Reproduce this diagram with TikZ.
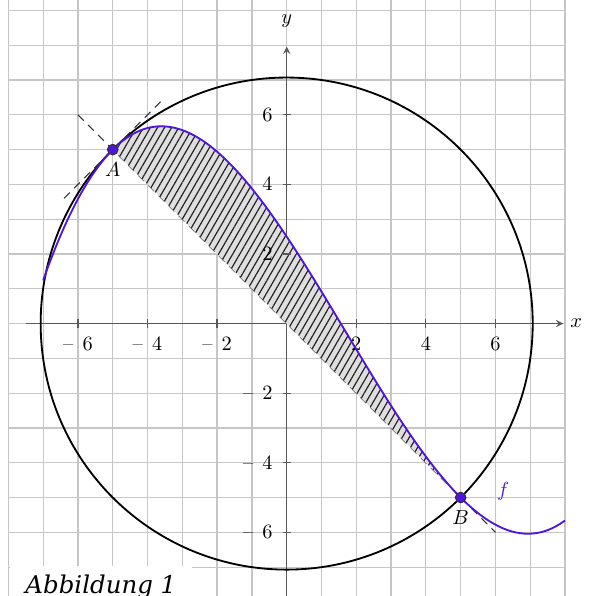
\documentclass[tikz,border=0pt]{standalone}
\usepackage{amsmath}
\usepackage{fontspec}
\newfontfamily\capfont{DejaVu Serif}
\usepackage{xcolor}
\usepackage{tikz}
\usetikzlibrary{positioning,patterns.meta}
\definecolor{fblue}{RGB}{80,20,220}

\begin{document}
\begin{tikzpicture}[x=0.6cm, y=0.6cm,
  declare function={f(\x)=((0.02*\x-0.1)*\x-1.5)*\x+2.5;},
  gridline/.style={gray!45, line width=0.6pt},
  axisline/.style={black!65, line width=0.6pt, -stealth},
  dashline/.style={black!80, line width=0.5pt, dash pattern=on 4pt off 3pt},
  hatchfill/.style={fill=gray!25, postaction={pattern={Lines[angle=60,distance=3pt,line width=0.6pt]}, pattern color=black!85}},
  punkt/.style={circle, fill=fblue, draw=black!80, line width=0.5pt, inner sep=0pt, minimum size=5.2pt}]
\useasboundingbox (-8.24,-7.83) rectangle (8.77,9.30);

% Grid
\foreach \i in {-8,...,8}
  \draw[gridline] (\i,-7.83) -- (\i,9.3);
\foreach \j in {-7,...,9}
  \draw[gridline] (-8,\j) -- (8,\j);

% Axes
\coordinate (xl) at (-7.5,0);
\coordinate (xr) at (7.95,0);
\coordinate (yb) at (0,-7.83);
\coordinate (yt) at (0,7.96);
\draw[axisline] (xl) -- (xr);
\draw[axisline] (yb) -- (yt);
\node[right] (xlab) at (xr) {$x$};
\node[above=6pt] (ylab) at (yt) {$y$};

% Circle
\draw[line width=0.9pt] (0,0) circle ({sqrt(50)});

% Dashed lines
\coordinate (T1) at (-6.4,3.6);
\coordinate (T2) at (-3.6,6.4);
\coordinate (D1) at (-6,6);
\coordinate (D2) at (6,-6);
\draw[dashline] (T1) -- (T2);
\draw[dashline] (D1) -- (D2);

% Area between f and AB
\fill[hatchfill] plot[domain=-5:5, samples=80, smooth] (\x,{f(\x)}) -- cycle;

% Ticks
\foreach \t in {-6,-4,-2,2,4,6} {
  \draw[black!65, line width=0.6pt] (\t,0) ++(0,-2pt) -- ++(0,4pt);
  \draw[black!65, line width=0.6pt] (0,\t) ++(-2pt,0) -- ++(4pt,0);
}
\foreach \t in {2,4,6} {
  \node[below=4.4pt, inner sep=2pt] (xp\t) at (\t,0) {$\t$};
  \node[below=4.4pt, inner sep=2pt] (xm\t) at (-\t,0) {--\hspace{4.5pt}$\t$};
  \node[left=4.7pt, inner sep=2pt] (yp\t) at (0,\t) {$\t$};
  \node[left=4.7pt, inner sep=2pt] (ym\t) at (0,-\t) {--\hspace{4.5pt}$\t$};
}

% Curve f
\draw[fblue, line width=0.9pt] plot[domain=-7:8, samples=120, smooth] (\x,{f(\x)});
\node[fblue] (flab) at (6.22,-4.83) {$f$};

% Points
\node[punkt] (pA) at (-5,5) {};
\node[punkt] (pB) at (5,-5) {};
\node[below=0pt of pA] (lA) {$A$};
\node[below=0pt of pB] (lB) {$B$};

% Caption
\node[anchor=base west, fill=white, inner xsep=7.7pt, inner ysep=4pt] (cap) at (-7.97,-7.75) {\fontsize{12}{14}\selectfont\capfont\itshape Abbildung 1};
\end{tikzpicture}
\end{document}
